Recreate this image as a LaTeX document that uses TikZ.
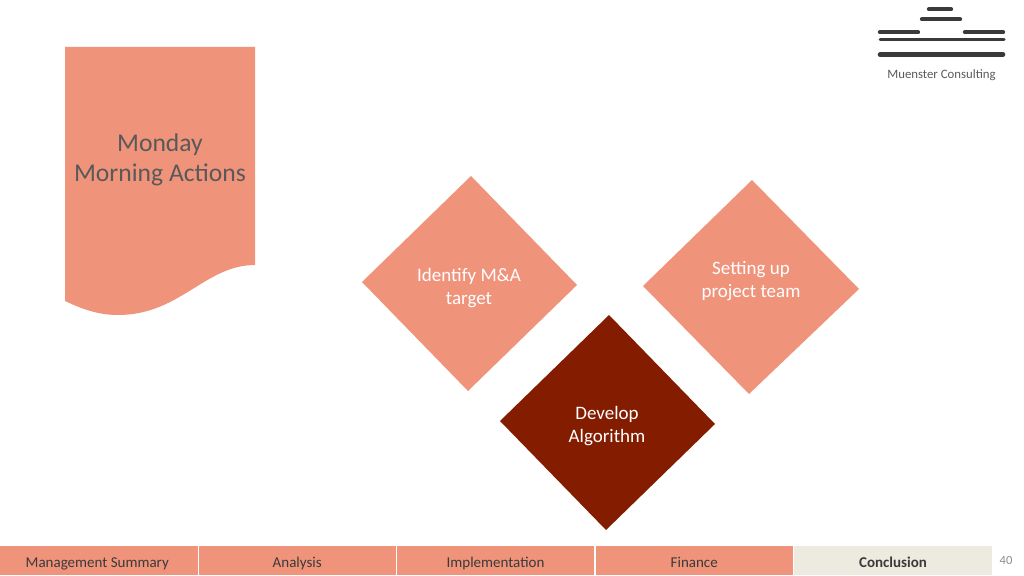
\documentclass[tikz,border=0pt]{standalone}
\usepackage{fontspec}
\setmainfont{Carlito}
\definecolor{TabSalmon}{HTML}{F0937B}
\definecolor{AlgoRust}{HTML}{841C00}
\definecolor{ConclCream}{HTML}{EDEBE0}
\definecolor{LogoDark}{HTML}{3A3A3A}
\definecolor{TextGray}{HTML}{595959}
\tikzset{
  barlabel/.style={anchor=base,text=LogoDark,font=\fontsize{15}{18}\selectfont},
  diamlabel/.style={text=white,align=center,font=\fontsize{19}{23}\selectfont},
  logoline/.style={LogoDark,line cap=round}
}
\begin{document}
\begin{tikzpicture}[x=1pt,y=-1pt]
\useasboundingbox (0,0) rectangle (1024,575);
\fill[TabSalmon] (65,47) -- (255,47) -- (255,265) .. controls (205,265) and (180,315) .. (118,315) .. controls (98,315) and (82,309) .. (65,301) -- cycle;
\node[text=TextGray,align=center,font=\fontsize{25.6}{30}\selectfont] (monday) at (160,160) {Monday\\Morning Actions};
\fill[TabSalmon] (471,176) -- (577,285) -- (468,391) -- (362,282) -- cycle;
\node[diamlabel] (identify) at (469,288.5) {Identify M\&A\\target};
\fill[TabSalmon] (752,180) -- (859,289) -- (749,394) -- (643,286) -- cycle;
\node[diamlabel] (setting) at (751,281.5) {Setting up\\project team};
\fill[AlgoRust] (609,315) -- (715,424) -- (606,530) -- (500,421) -- cycle;
\node[diamlabel] (develop) at (607,426) {Develop\\Algorithm};
\foreach \xa/\xb/\lab in {-3/197.5/Management Summary,199/395.5/Analysis,397/594/Implementation,596/792.5/Finance} {\fill[TabSalmon] (\xa,546) rectangle (\xb,575); \node[barlabel] at ({(\xa+\xb)/2},567) {\lab};}
\fill[ConclCream] (794,546) rectangle (992,575);
\node[barlabel,font=\fontsize{15}{18}\selectfont\bfseries] (conclusion) at (893,567) {Conclusion};
\node[text=gray!90,font=\fontsize{12.5}{15}\selectfont] (pagenum) at (1006,560) {40};
\draw[logoline,line width=4.3pt] (929,9.3) -- (951,9.3);
\draw[logoline,line width=4.3pt] (922,19.3) -- (960,19.3);
\draw[logoline,line width=4.3pt] (880,32.3) -- (918,32.3) (965,32.3) -- (1003,32.3);
\draw[logoline,line width=3pt] (880,40) -- (1004,40);
\draw[logoline,line width=4.6pt] (880,54.6) -- (1003,54.6);
\node[text=TextGray,font=\fontsize{12.8}{16}\selectfont] (logotext) at (941.5,75) {Muenster Consulting};
\end{tikzpicture}
\end{document}
